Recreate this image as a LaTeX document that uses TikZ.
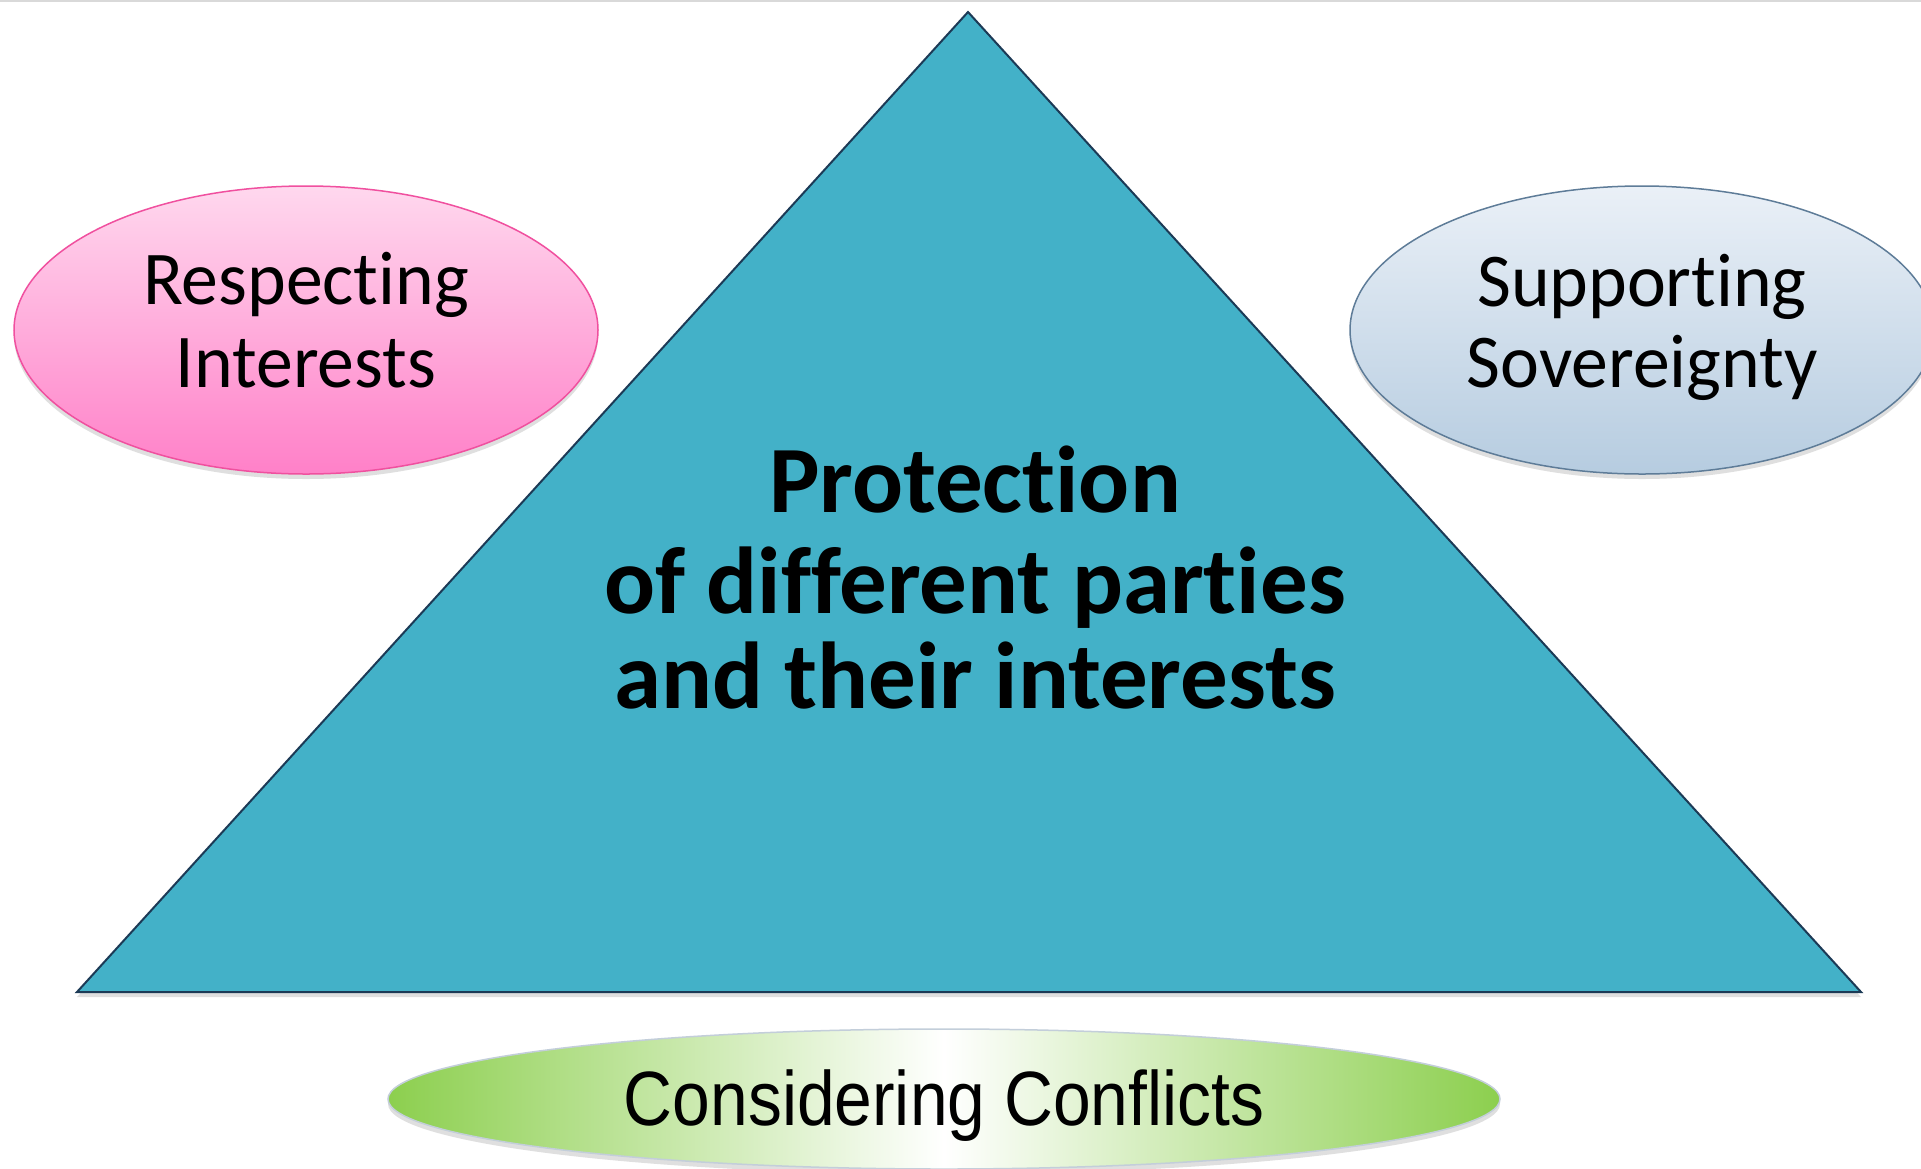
\documentclass[tikz,border=0pt]{standalone}
\usepackage{fontspec}
\setmainfont[RawFeature={-liga;-dlig;-clig}]{Carlito}
\newfontfamily\arialish{Liberation Sans}
\usetikzlibrary{shadows,shapes.geometric}
\definecolor{trifill}{HTML}{43B1C8}
\definecolor{triline}{HTML}{1C3A56}
\definecolor{pinktop}{HTML}{FFD8EE}
\definecolor{pinkbot}{HTML}{FF80C8}
\definecolor{pinkline}{HTML}{F0509F}
\definecolor{bluetop}{HTML}{EAF0F7}
\definecolor{bluebot}{HTML}{B6CCE0}
\definecolor{blueline}{HTML}{5E7C98}
\definecolor{greenedge}{HTML}{8CCF4E}
\definecolor{greenline}{HTML}{C3CEDA}
\tikzset{
  oval/.style={ellipse, inner sep=0pt, line width=1.5pt,
    drop shadow={shadow xshift=0pt, shadow yshift=-5pt, opacity=0.25}},
  lbl/.style={anchor=base, inner sep=0pt, text=black, font=\fontsize{76}{83}\selectfont},
  biglbl/.style={anchor=base, inner sep=0pt, text=black, font=\bfseries\fontsize{95}{98}\selectfont},
}
\begin{document}
\begin{tikzpicture}[x=1pt,y=-1pt]
\useasboundingbox (0,0) rectangle (1921,1168);
\fill[white] (0,0) rectangle (1921,1168);
\draw[black!15, line width=2pt] (0,1) -- (1921,1);

% triangle
\coordinate (apex) at (968,12);
\coordinate (bl) at (77,992);
\coordinate (br) at (1861,992);
\path[fill=trifill, draw=triline, line width=2pt, line join=miter,
  drop shadow={shadow xshift=0pt, shadow yshift=-5pt, opacity=0.25}]
  (apex) -- (br) -- (bl) -- cycle;

% ellipses
\node[oval, minimum width=584pt, minimum height=288pt, draw=pinkline,
  top color=pinktop, bottom color=pinkbot] (resp) at (306,330) {};
\node[oval, minimum width=584pt, minimum height=288pt, draw=blueline,
  top color=bluetop, bottom color=bluebot] (supp) at (1642,330) {};
\node[oval, minimum width=1112pt, minimum height=140pt, draw=greenline,
  left color=greenedge, right color=greenedge, middle color=white] (cons) at (944,1099) {};

% labels
\node[lbl] (respA) at (306,304) {\scalebox{0.97}[1]{Respecting}};
\node[lbl] (respB) at (306,387) {\scalebox{0.97}[1]{Interests}};
\node[lbl] (suppA) at (1642,306) {\scalebox{0.97}[1]{Supporting}};
\node[lbl] (suppB) at (1642,387) {\scalebox{0.97}[1]{Sovereignty}};
\node[biglbl] (protA) at (975,512) {Protection};
\node[biglbl] (protB) at (975,613) {of different parties};
\node[biglbl] (protC) at (975,708) {and their interests};
\node[anchor=base, inner sep=0pt, font=\arialish\fontsize{77}{80}\selectfont] (consT) at (944,1125)
  {\scalebox{0.88}[1]{Considering Conflicts}};
\end{tikzpicture}
\end{document}
